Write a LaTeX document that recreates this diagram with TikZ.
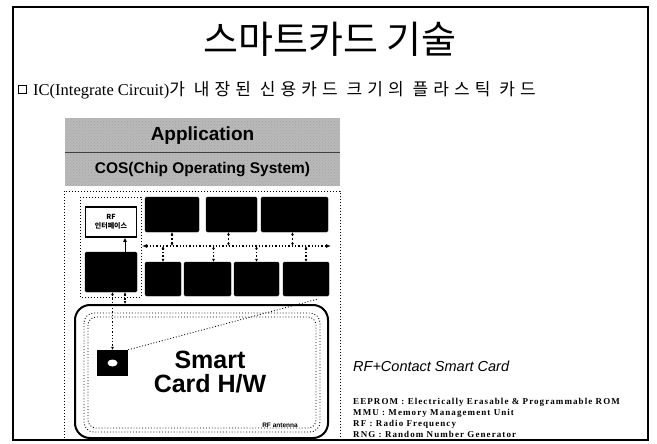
\documentclass[tikz,border=0pt]{standalone}
\usepackage{fontspec}
\setmainfont{Liberation Serif}
\newfontfamily\kr{Noto Sans CJK KR}
\newfontfamily\krsp[LetterSpace=30]{Noto Sans CJK KR}
\newfontfamily\arial{Liberation Sans}
\newfontfamily\legendfont[LetterSpace=12]{Liberation Serif}
\usetikzlibrary{arrows.meta,patterns}
\begin{document}
\begin{tikzpicture}[x=1pt,y=-1pt,
  blk/.style={fill=black,draw=black,rounded corners=1.5pt,inner sep=0pt},
  band/.style={preaction={fill=gray!55},pattern=crosshatch dots,pattern color=black!35,inner sep=0pt,minimum width=275pt,text=black},
  bus/.style={dotted,line width=1.3pt,{Latex[length=5pt,width=4pt]}-{Latex[length=5pt,width=4pt]}},
  tick/.style={dotted,line width=1.3pt,{Latex[length=3pt,width=3pt]}-{Latex[length=3pt,width=3pt]}},
  dotbox/.style={dotted,line width=1pt},
]
\useasboundingbox (0,0) rectangle (657,444);
\fill[white] (0,0) rectangle (657,444);

% title
\node (title) at (330,39) {\kr\fontsize{38}{40}\selectfont 스마트카드 기술};
\node[draw,line width=1pt,minimum size=8pt,inner sep=0pt] (bullet) at (22,90) {};
\node[anchor=west,inner sep=0pt] (sub) at (33,90) {\fontsize{16.5}{18}\selectfont IC(Integrate Circuit)\krsp\fontsize{17}{18}\selectfont 가 내장된 신용카드 크기의 플라스틱 카드};

% layers
\node[band,minimum height=34pt,font=\arial\bfseries\fontsize{19}{21}\selectfont] (app) at (202.5,135.5) {Application};
\node[band,minimum height=33pt,font=\arial\bfseries\fontsize{15.5}{17}\selectfont] (cos) at (202.5,169.5) {COS(Chip Operating System)};
\draw[line width=1pt,black!75] (app.south west) -- (app.south east);

% hardware area
\draw[dotbox] (64,191) rectangle (340,440);
\draw[dotbox] (80,197) rectangle (141,297);
\node[draw,line width=1.5pt,minimum width=51pt,minimum height=30pt,inner sep=0pt,align=center,
      font=\kr\bfseries\fontsize{7}{9}\selectfont] (rf) at (111,222) {RF\\인터페이스};
\node[blk,minimum width=52pt,minimum height=40pt] (lb) at (111,272) {};

\node[blk,minimum width=54pt,minimum height=35pt] (t1) at (172,214.5) {};
\node[blk,minimum width=51pt,minimum height=35pt] (t2) at (231.5,214.5) {};
\node[blk,minimum width=67pt,minimum height=35pt] (t3) at (294.5,214.5) {};
\node[blk,minimum width=36pt,minimum height=34pt] (b1) at (163,279) {};
\node[blk,minimum width=47pt,minimum height=34pt] (b2) at (207.5,279) {};
\node[blk,minimum width=45pt,minimum height=34pt] (b3) at (256.5,279) {};
\node[blk,minimum width=46pt,minimum height=34pt] (b4) at (306,279) {};

\coordinate (busL) at (142,246);
\coordinate (busR) at (331,246);
\draw[bus] (busL) -- (busR);
\draw[tick] (t1.south) -- (t1.south |- busL);
\draw[tick] ([xshift=-3pt]t2.south) -- ([xshift=-3pt]t2.south |- busL);
\draw[tick] ([xshift=-2pt]t3.south) -- ([xshift=-2pt]t3.south |- busL);
\draw[tick] (b1.north |- busL) -- (b1.north);
\draw[tick] ([xshift=6pt]b2.north |- busL) -- ([xshift=6pt]b2.north);
\draw[tick] (b3.north |- busL) -- (b3.north);
\draw[tick] (b4.north |- busL) -- (b4.north);
\draw[line width=1pt,-{Latex[length=4pt,width=4pt]}] ([xshift=14pt]lb.north) -- ([xshift=14pt]rf.south);

% card
\node[draw,line width=2pt,rounded corners=15pt,minimum width=253pt,minimum height=133pt] (card) at (201.5,371.5) {};
\draw[dotted,line width=0.9pt,rounded corners=10pt] (84,313) rectangle (320,432);
\draw[dotted,line width=0.9pt,rounded corners=8pt] (88,317) rectangle (316,428);
\node[fill=black,minimum width=31pt,minimum height=26pt,inner sep=0pt] (chip) at (112.5,363) {};
\fill[white] (chip.center) ellipse (5 and 3.5);
\draw[tick] (lb.south -| chip.north) -- (chip.north);
\draw[tick] ([xshift=14pt]lb.south) -- ([xshift=14pt]lb.south |- card.north);
\coordinate (antend) at (318,299);
\draw[dotted,line width=0.9pt] (chip.north east) -- (antend);
\node[align=center,inner sep=0pt,font=\arial\bfseries\fontsize{25}{24}\selectfont] (hw) at (210,372) {Smart\\Card H/W};
\node[inner sep=0pt,font=\arial\bfseries\fontsize{6.5}{7}\selectfont] (ant) at (280,425) {RF antenna};

% right side
\node[anchor=west,inner sep=0pt,font=\arial\itshape\fontsize{14.5}{16}\selectfont] (rfc) at (353,366) {RF+Contact Smart Card};
\begin{scope}
\clip (0,0) rectangle (657,437);
\node[anchor=north west,align=left,inner sep=0pt,font=\legendfont\bfseries\fontsize{9}{11}\selectfont] (leg) at (353,398)
  {EEPROM : Electrically Erasable \& Programmable ROM\\
   MMU : Memory Management Unit\\
   RF : Radio Frequency\\
   RNG : Random Number Generator};
\end{scope}

% frame
\draw[line width=2pt] (13,7) rectangle (648,440);
\end{tikzpicture}
\end{document}
